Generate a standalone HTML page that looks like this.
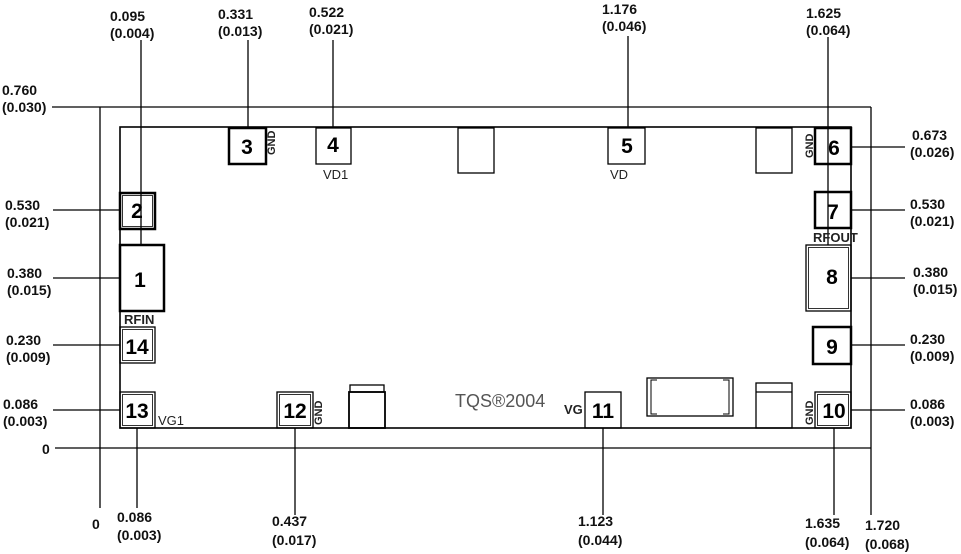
<!DOCTYPE html>
<html><head><meta charset="utf-8"><style>
html,body{margin:0;padding:0;background:#fff;}
svg{display:block;}
.t{font-family:"Liberation Sans",Arial,sans-serif;font-weight:bold;font-size:14px;fill:#111;}
.n{font-family:"Liberation Sans",Arial,sans-serif;font-weight:bold;font-size:21px;fill:#000;}
.s{font-family:"Liberation Sans Narrow","Liberation Sans",sans-serif;font-size:13px;fill:#222;}
</style></head><body>
<svg width="961" height="554" viewBox="0 0 961 554" xmlns="http://www.w3.org/2000/svg">
<g stroke="#000" stroke-width="1.3" fill="none">
<line x1="52" y1="107" x2="871" y2="107"/>
<line x1="100" y1="107" x2="100" y2="508"/>
<line x1="871" y1="107" x2="871" y2="515"/>
<line x1="55" y1="448" x2="871" y2="448"/>
<rect x="120" y="127" width="731" height="301" stroke-width="1.6"/>
<line x1="141" y1="40" x2="141" y2="245"/>
<line x1="248" y1="40" x2="248" y2="128"/>
<line x1="333" y1="40" x2="333" y2="128"/>
<line x1="628" y1="36" x2="628" y2="128"/>
<line x1="828" y1="37" x2="828" y2="245"/>
<line x1="53" y1="210" x2="120" y2="210"/>
<line x1="53" y1="278" x2="120" y2="278"/>
<line x1="53" y1="345" x2="120" y2="345"/>
<line x1="53" y1="410" x2="120" y2="410"/>
<line x1="851" y1="147" x2="905" y2="147"/>
<line x1="851" y1="210" x2="905" y2="210"/>
<line x1="851" y1="278" x2="905" y2="278"/>
<line x1="851" y1="345" x2="905" y2="345"/>
<line x1="851" y1="410" x2="905" y2="410"/>
<line x1="137" y1="428" x2="137" y2="508"/>
<line x1="295" y1="428" x2="295" y2="515"/>
<line x1="603" y1="428" x2="603" y2="515"/>
<line x1="834" y1="428" x2="834" y2="515"/>
<rect x="229" y="128" width="37" height="36" stroke-width="2.5"/>
<rect x="316" y="128" width="35" height="36"/>
<rect x="458" y="128" width="36" height="45"/>
<rect x="608" y="128" width="37" height="36"/>
<rect x="756" y="128" width="36" height="45"/>
<rect x="815" y="128" width="36" height="36" stroke-width="2.5"/>
<rect x="815" y="192" width="36" height="36" stroke-width="2.5"/>
<rect x="120" y="193" width="35" height="36" stroke-width="2.5"/>
<rect x="122.5" y="195.5" width="30" height="31" stroke-width="0.8"/>
<rect x="120" y="245" width="44" height="66" stroke-width="2.5"/>
<rect x="806" y="245" width="45" height="66"/>
<rect x="808.5" y="247.5" width="40" height="61" stroke-width="0.8"/>
<rect x="120" y="327" width="35" height="36"/>
<rect x="122.5" y="329.5" width="30" height="31" stroke-width="0.8"/>
<rect x="813" y="327" width="38" height="37" stroke-width="2.5"/>
<rect x="120" y="392" width="35" height="36"/>
<rect x="122.5" y="394.5" width="30" height="31" stroke-width="0.8"/>
<rect x="277" y="392" width="36" height="36"/>
<rect x="279.5" y="394.5" width="31" height="31" stroke-width="0.8"/>
<rect x="349" y="392" width="36" height="36" stroke-width="1.8"/>
<rect x="350" y="385" width="34" height="7"/>
<rect x="585" y="392" width="36" height="36"/>
<rect x="647" y="378" width="86" height="38"/>
<path d="M657 380 h-6 v34 h6 M723 380 h6 v34 h-6" stroke-width="1"/>
<rect x="756" y="383" width="36" height="45"/>
<line x1="756" y1="392" x2="792" y2="392"/>
<rect x="815" y="392" width="36" height="36"/>
<rect x="817.5" y="394.5" width="31" height="31" stroke-width="0.8"/>
</g>
<text class="n" x="247" y="154" text-anchor="middle">3</text>
<text class="n" x="333" y="152" text-anchor="middle">4</text>
<text class="n" x="627" y="153" text-anchor="middle">5</text>
<text class="n" x="834" y="155" text-anchor="middle">6</text>
<text class="n" x="833" y="219" text-anchor="middle">7</text>
<text class="n" x="137" y="218" text-anchor="middle">2</text>
<text class="n" x="140" y="287" text-anchor="middle">1</text>
<text class="n" x="832" y="284" text-anchor="middle">8</text>
<text class="n" x="137" y="354" text-anchor="middle">14</text>
<text class="n" x="832" y="354" text-anchor="middle">9</text>
<text class="n" x="137" y="418" text-anchor="middle">13</text>
<text class="n" x="295" y="418" text-anchor="middle">12</text>
<text class="n" x="603" y="418" text-anchor="middle">11</text>
<text class="n" x="834" y="418" text-anchor="middle">10</text>
<text class="s" x="275" y="155" transform="rotate(-90 275 155)" style="font-weight:bold;font-size:11px">GND</text>
<text class="s" x="813" y="158" transform="rotate(-90 813 158)" style="font-weight:bold;font-size:11px">GND</text>
<text class="s" x="322" y="425" transform="rotate(-90 322 425)" style="font-weight:bold;font-size:11px">GND</text>
<text class="s" x="813" y="425" transform="rotate(-90 813 425)" style="font-weight:bold;font-size:11px">GND</text>
<text class="s" x="323" y="179">VD1</text>
<text class="s" x="610" y="179">VD</text>
<text class="s" x="124" y="324" style="font-weight:bold">RFIN</text>
<text class="s" x="813" y="242" style="font-weight:bold">RFOUT</text>
<text class="s" x="158" y="425">VG1</text>
<text class="s" x="564" y="414" style="font-weight:bold">VG</text>
<text class="s" x="455" y="407" style="font-size:18px;fill:#555">TQS®2004</text>
<text class="t" x="110" y="21">0.095</text><text class="t" x="110" y="38">(0.004)</text>
<text class="t" x="218" y="19">0.331</text><text class="t" x="218" y="36">(0.013)</text>
<text class="t" x="309" y="17">0.522</text><text class="t" x="309" y="34">(0.021)</text>
<text class="t" x="602" y="14">1.176</text><text class="t" x="602" y="31">(0.046)</text>
<text class="t" x="806" y="18">1.625</text><text class="t" x="806" y="35">(0.064)</text>
<text class="t" x="2" y="95">0.760</text><text class="t" x="2" y="112">(0.030)</text>
<text class="t" x="5" y="210">0.530</text><text class="t" x="5" y="227">(0.021)</text>
<text class="t" x="7" y="278">0.380</text><text class="t" x="7" y="295">(0.015)</text>
<text class="t" x="6" y="345">0.230</text><text class="t" x="6" y="362">(0.009)</text>
<text class="t" x="3" y="409">0.086</text><text class="t" x="3" y="426">(0.003)</text>
<text class="t" x="42" y="454">0</text>
<text class="t" x="912" y="140">0.673</text><text class="t" x="910" y="157">(0.026)</text>
<text class="t" x="910" y="209">0.530</text><text class="t" x="910" y="226">(0.021)</text>
<text class="t" x="913" y="277">0.380</text><text class="t" x="913" y="294">(0.015)</text>
<text class="t" x="910" y="344">0.230</text><text class="t" x="910" y="361">(0.009)</text>
<text class="t" x="910" y="409">0.086</text><text class="t" x="910" y="426">(0.003)</text>
<text class="t" x="92" y="529">0</text>
<text class="t" x="117" y="522">0.086</text><text class="t" x="117" y="540">(0.003)</text>
<text class="t" x="272" y="526">0.437</text><text class="t" x="272" y="545">(0.017)</text>
<text class="t" x="578" y="526">1.123</text><text class="t" x="578" y="545">(0.044)</text>
<text class="t" x="805" y="528">1.635</text><text class="t" x="805" y="547">(0.064)</text>
<text class="t" x="865" y="530">1.720</text><text class="t" x="865" y="549">(0.068)</text>
</svg>
</body></html>
